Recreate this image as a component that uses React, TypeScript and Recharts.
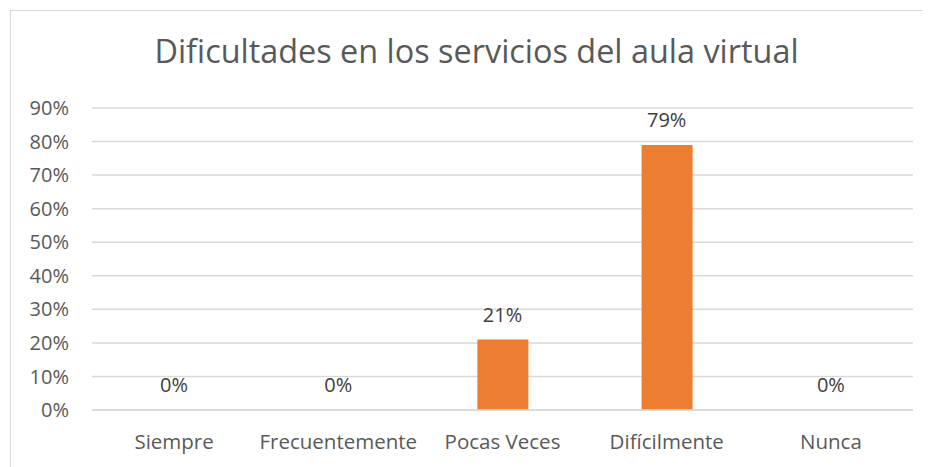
import { Bar, ComposedChart, CartesianGrid, LabelList, Line, XAxis, YAxis } from 'recharts';

const categories = ['Siempre', 'Frecuentemente', 'Pocas Veces', 'Difícilmente', 'Nunca'];
const shares = [0, 0, 0.21, 0.79, 0];
const yTicks = [0, 0.1, 0.2, 0.3, 0.4, 0.5, 0.6, 0.7, 0.8, 0.9];

const data = categories.map((name, i) => ({ name, value: shares[i] }));

const pct = (v: number) => `${Math.round(v * 100)}%`;
const font = '"Open Sans", sans-serif';

const App = () => (
  <div style={{ position: 'relative', width: 923, height: 459, overflow: 'hidden', fontFamily: font }}>
    <div
      style={{
        position: 'absolute',
        left: 2,
        top: 2,
        width: 940,
        height: 480,
        border: '1px solid #D9D9D9',
      }}
    />
    <div
      style={{
        position: 'absolute',
        left: 0,
        top: 22,
        width: 937,
        textAlign: 'center',
        fontSize: 32.4,
        lineHeight: '40px',
        color: '#595959',
      }}
    >
      Dificultades en los servicios del aula virtual
    </div>
    <ComposedChart
      width={923}
      height={459}
      data={data}
      margin={{ top: 100, right: 18, bottom: 27, left: 0 }}
      barSize={51}
    >
      <CartesianGrid stroke="#D9D9D9" strokeWidth={1.5} vertical={false} />
      <XAxis
        dataKey="name"
        height={30}
        tickLine={false}
        axisLine={{ stroke: '#D9D9D9', strokeWidth: 1.5 }}
        tickSize={0}
        tickMargin={24}
        tick={{ fill: '#595959', fontSize: 20.5, fontFamily: font }}
      />
      <YAxis
        width={84}
        domain={[0, 0.9]}
        ticks={yTicks}
        tickFormatter={pct}
        tickLine={false}
        axisLine={false}
        tickSize={0}
        tickMargin={23}
        tick={{ fill: '#595959', fontSize: 20, fontFamily: font }}
      />
      <Bar dataKey="value" fill="#ED7D31" isAnimationActive={false} />
      <Line
        dataKey="value"
        stroke="none"
        dot={false}
        activeDot={false}
        legendType="none"
        isAnimationActive={false}
      >
        <LabelList
          dataKey="value"
          position="top"
          offset={18}
          formatter={(v: number) => pct(v)}
          style={{ fill: '#404040', fontSize: 20, fontFamily: font }}
        />
      </Line>
    </ComposedChart>
  </div>
);

export default App;
